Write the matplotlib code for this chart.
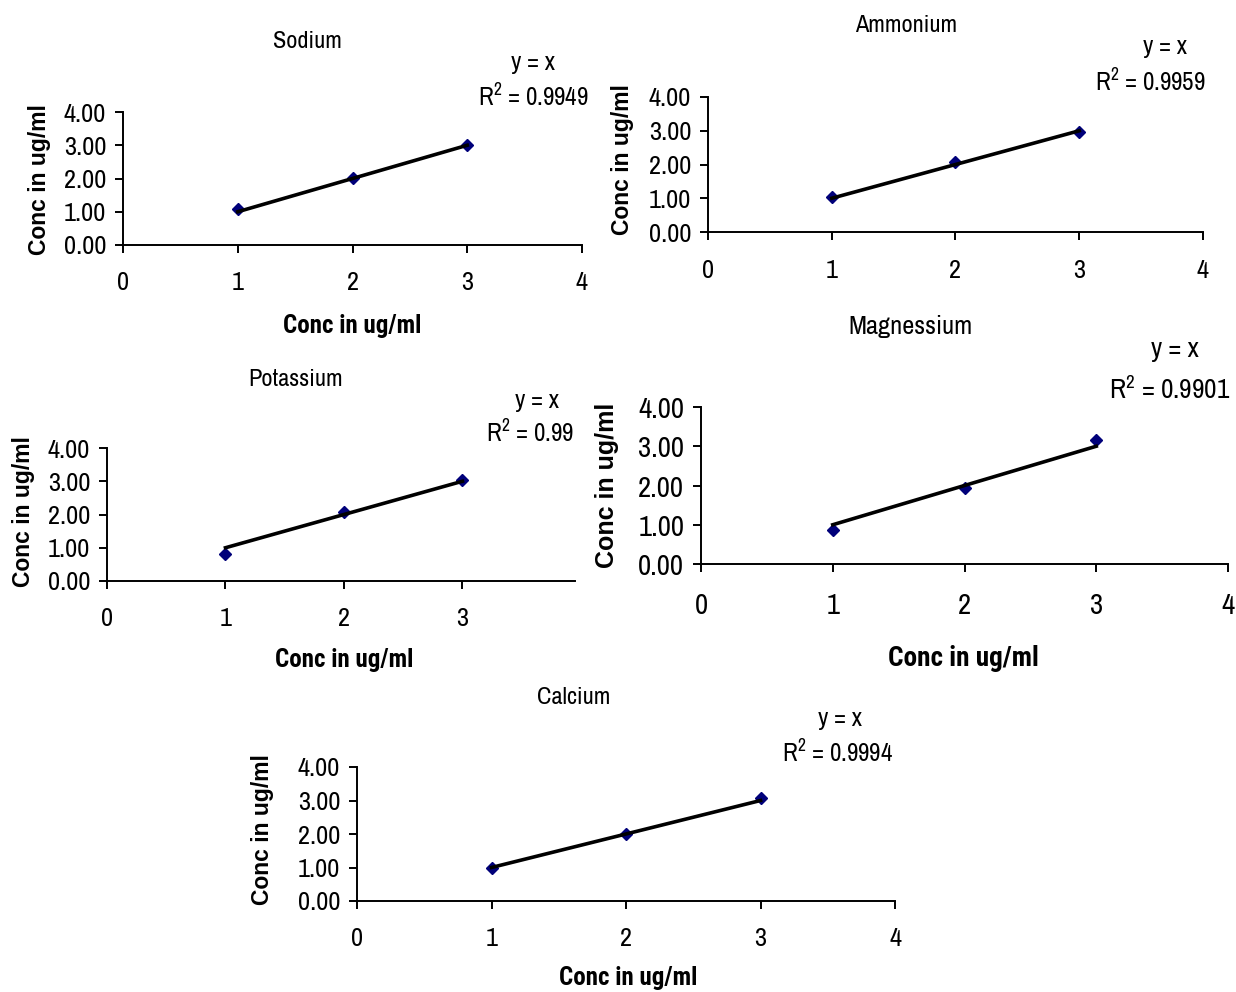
import matplotlib.pyplot as plt

NARROW = ['Archivo Narrow', 'Roboto Condensed', 'Liberation Sans', 'DejaVu Sans']
NARROW_BOLD = ['Roboto Condensed', 'PT Sans Narrow', 'Liberation Sans', 'DejaVu Sans']
plt.rcParams['font.family'] = NARROW
plt.rcParams['mathtext.fontset'] = 'custom'
plt.rcParams['mathtext.rm'] = 'Archivo Narrow'
plt.rcParams['mathtext.it'] = 'Archivo Narrow'

W, H = 1236, 992

# data
names = ['Sodium', 'Ammonium', 'Potassium', 'Magnessium', 'Calcium']
x_std = [1, 2, 3]
sodium = [1.08, 2.02, 3.02]
ammonium = [1.05, 2.07, 2.97]
potassium = [0.82, 2.07, 3.03]
magnesium = [0.87, 1.93, 3.15]
calcium = [0.99, 2.01, 3.08]
r2_labels = ['0.9949', '0.9959', '0.99', '0.9901', '0.9994']
series = [sodium, ammonium, potassium, magnesium, calcium]
yticks = [0, 1, 2, 3, 4]
fit_x = [1, 3]

# pixel layout: axes box (left, right, top, bottom), title, equation, xlabel, ylabel, font scale
layout = [
    dict(box=(123, 582, 112, 245), xmax=4, xt=[0, 1, 2, 3, 4], title=(307, 42), eq=(533, 62), r2=(533, 97),
         xl=(352, 326), yl=(40, 180), k=1.0, pad=12.5),
    dict(box=(708, 1203, 97, 232), xmax=4, xt=[0, 1, 2, 3, 4], title=(906, 26), eq=(1165, 46), r2=(1150, 82),
         xl=None, yl=(622, 160), k=1.0, pad=13.5),
    dict(box=(107, 575, 448, 581), xmax=3.95, xt=[0, 1, 2, 3], title=(296, 380), eq=(537, 400), r2=(530, 433),
         xl=(344, 660), yl=(24, 512), k=1.0, pad=12.5),
    dict(box=(701, 1228, 407, 564), xmax=4, xt=[0, 1, 2, 3, 4], title=(911, 327), eq=(1175, 350), r2=(1170, 390),
         xl=(963, 658), yl=(607, 485), k=1.09, pad=14.5),
    dict(box=(357, 895, 767, 901), xmax=4, xt=[0, 1, 2, 3, 4], title=(574, 698), eq=(840, 718), r2=(838, 753),
         xl=(628, 978), yl=(263, 830), k=1.0, pad=12.5),
]


def fx(px):
    return px / W


def fy(py):
    return 1 - py / H


fig = plt.figure(figsize=(W / 100, H / 100), dpi=100)
fig.patch.set_facecolor('white')

for name, vals, r2, L in zip(names, series, r2_labels, layout):
    l, r, t, b = L['box']
    k = L['k']
    ax = fig.add_axes([fx(l), fy(b), (r - l) / W, (b - t) / H])
    ax.set_xlim(0, L['xmax'])
    ax.set_ylim(0, 4)
    ax.plot(fit_x, fit_x, color='black', lw=2.6, zorder=3)
    ax.plot(x_std, vals, 'D', color='#00007a', ms=6, zorder=2, clip_on=False)
    for s in ['top', 'right']:
        ax.spines[s].set_visible(False)
    for s in ['left', 'bottom']:
        ax.spines[s].set_linewidth(1.4)
    ax.set_xticks(L['xt'])
    ax.set_yticks(yticks)
    ax.set_yticklabels([f'{v:.2f}' for v in yticks])
    ax.tick_params(axis='x', direction='out', length=6, width=1.4, pad=L['pad'], labelsize=19 * k)
    ax.tick_params(axis='y', direction='out', length=6, width=1.4, pad=6, labelsize=19 * k)
    ax.patch.set_alpha(0)

    fig.text(fx(L['title'][0]), fy(L['title'][1]), name, ha='center', va='center', fontsize=17.5 * k)
    fig.text(fx(L['eq'][0]), fy(L['eq'][1]), 'y = x', ha='center', va='center', fontsize=18 * k)
    fig.text(fx(L['r2'][0]), fy(L['r2'][1]), 'R$^2$ = ' + r2, ha='center', va='center', fontsize=18 * k)
    if L['xl'] is not None:
        fig.text(fx(L['xl'][0]), fy(L['xl'][1]), 'Conc in ug/ml', ha='center', va='center',
                 fontsize=18 * k, fontweight='bold', family=NARROW_BOLD)
    fig.text(fx(L['yl'][0]), fy(L['yl'][1]), 'Conc in ug/ml', ha='center', va='center', rotation=90,
             fontsize=16.5 * k, fontweight='bold', family=['Liberation Sans', 'DejaVu Sans'])

fig.savefig('out.png', dpi=100, facecolor='white')
plt.close()
